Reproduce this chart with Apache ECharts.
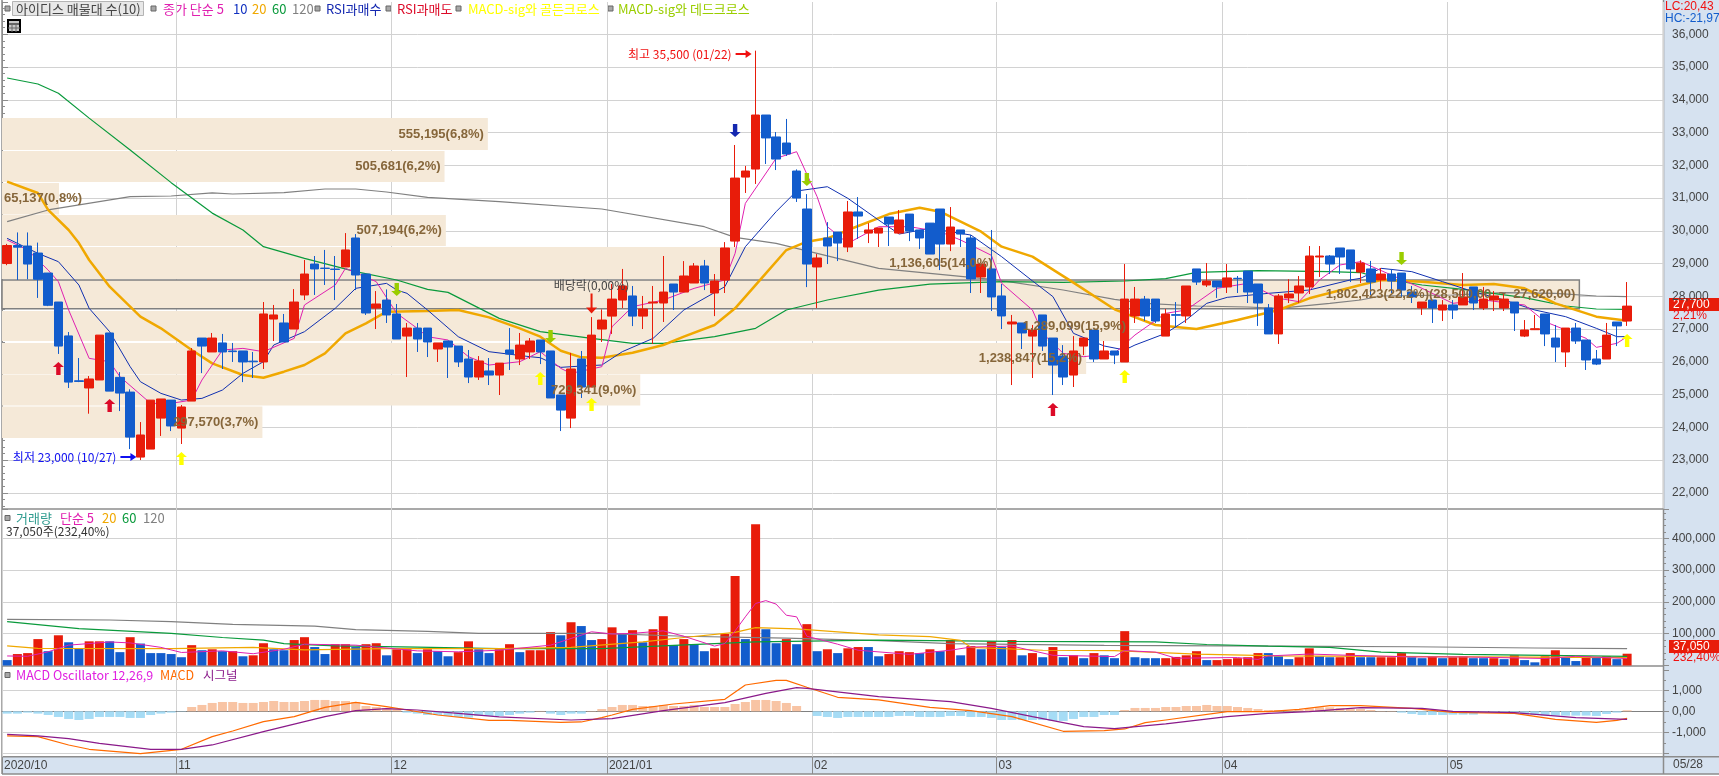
<!DOCTYPE html>
<html>
<head>
<meta charset="utf-8">
<style>
html, body { margin: 0; padding: 0; background: #fff; overflow: hidden; }
#panel { position: absolute; left: 1664px; top: 0; width: 55px; height: 774px; background: #d6e2f0; }
#chart { position: absolute; left: 0; top: 0; width: 1719px; height: 776px; }
</style>
</head>
<body>
<div id="panel"></div>
<div id="chart"></div>
<script src="https://cdn.jsdelivr.net/npm/echarts@6/dist/echarts.min.js"></script>
<script>
// [open, close, low, high]
const candles = [
  [29000,29550,28950,29600],[29550,29500,28500,29950],[29535,28985,28520,29950],[29320,28520,27950,29640],[28710,27725,27700,28710],
  [27825,26480,26240,27825],[26790,25380,25200,26910],[25420,25400,25380,26115],[25200,25475,24415,25565],[25445,26815,25445,26815],
  [26880,25105,25105,26880],[25525,25045,24495,25685],[25075,23700,23335,25160],[23090,23765,23000,24160],[23335,24830,23335,24830],
  [24280,24865,23735,24865],[24830,24040,23885,24830],[23975,24620,23490,24680],[24800,26330,24800,26420],[26725,26480,25655,26725],
  [26300,26725,26300,26880],[26575,26300,25780,26850],[26330,26310,25995,26575],[26330,25995,25380,26330],[26020,26000,25505,26300],
  [25995,27460,25780,27825],[27305,27430,26635,27735],[27185,26605,26605,27460],[27000,27825,27000,28220],[28040,28680,27885,29110],
  [28985,28835,28040,29230],[28860,28850,28345,29415],[28830,28820,27885,29230],[28895,29415,28895,29930],[29780,28650,28190,29900],
  [28680,27490,27430,28680],[27640,27765,27000,28160],[27885,27430,27185,28210],[27460,26695,26695,27765],[26785,27030,25535,27185],
  [27030,26695,26300,27185],[27030,26605,26145,27030],[26390,26575,25995,26575],[26635,26450,25505,26635],[26480,25995,25840,26480],
  [26085,25535,25350,26360],[25535,26025,25445,26175],[25720,25595,25290,26115],[25595,25960,24985,25960],[26360,26235,25750,27030],
  [26085,26510,25900,26880],[26300,26635,26085,26725],[26665,26300,25930,26665],[26330,24895,24895,26330],[24985,24525,23885,24985],
  [24280,25780,23975,26270],[26085,25230,24895,26330],[25230,26815,25230,27365],[27000,27275,26605,27600],[27395,27915,26850,28375],
  [27885,28315,27640,28835],[28010,27395,27090,28315],[27395,27610,27000,28010],[27795,27825,26545,28315],[27795,28130,27215,29230],
  [28375,28130,27580,28375],[28130,28620,28130,29075],[28405,28925,28405,29015],[28925,28405,28190,29110],[28100,28465,27395,28680],
  [28495,29475,28100,29655],[29685,31610,29505,32620],[31640,31825,31155,31980],[31885,33535,31430,35500],[33535,32835,32040,33535],
  [32865,32190,31855,33015],[32680,32345,32285,33415],[31825,31000,30880,31875],[30665,28985,28280,31120],[28895,29170,27640,29290],
  [29780,29535,28985,30265],[29960,29625,29075,29960],[29505,30575,29350,30910],[30575,30450,29750,31030],[29930,30025,29625,30235],
  [29930,30085,29505,30085],[30420,30205,29535,30420],[29930,30330,29900,30635],[30510,29990,29685,30510],[30025,29780,29445,30025],
  [30235,29290,29290,30235],[30665,29595,28800,30665],[29595,30115,29380,30725],[30025,29900,29505,30025],[29780,28530,28100,29870],
  [28590,28985,28100,28985],[28835,27980,27550,30025],[28010,27400,27000,28375],[27155,27215,25290,27430],[27185,26880,26390,27185],
  [26785,26970,25505,27125],[27430,26480,26330,27430],[26725,25900,24985,26725],[26175,25535,25290,26510],[25595,26330,25230,26785],
  [26480,26725,26205,26725],[26970,26085,25995,26970],[26085,26330,26085,26635],[26330,26205,25930,26330],[25995,27915,25995,28985],
  [27400,27915,27185,28285],[27915,27400,27245,28010],[27915,27245,27185,27915],[26785,27460,26785,27610],[27440,27420,27060,27825],
  [27400,28315,27185,28315],[28835,28435,28345,28835],[28345,28465,28285,29015],[28465,28285,27950,28465],[28285,28560,28100,28985],
  [28550,28540,28100,28620],[28770,28130,27795,28770],[28375,27795,27095,28375],[27640,26850,26850,27765],[26850,28010,26545,28070],
  [27950,28070,27795,28520],[28100,28315,27795,28620],[28285,29230,28070,29535],[29200,29230,28590,29535],[29230,28985,28680,29260],
  [29475,29200,28680,29475],[29415,28835,28435,29415],[28740,29015,28405,29100],[28835,28435,28040,29080],[28500,28680,28190,28865],
  [28680,28465,28100,28835],[28710,28190,27980,28710],[28130,27980,27795,28315],[27645,27825,27430,27825],[27885,27645,27185,27885],
  [27580,27735,27245,27885],[27735,27580,27305,27885],[27735,27980,27735,28710],[28285,27795,27580,28285],[27645,27915,27580,28285],
  [27885,28010,27550,28160],[27645,27915,27550,28070],[27825,27490,26940,27825],[26785,26970,26755,27275],[26980,27010,26970,27430],
  [27460,26850,26480,27460],[26725,26450,25995,27125],[26300,27030,25840,27030],[27030,26635,26545,27185],[26665,26055,25750,26665],
  [26085,25930,25900,26360],[26085,26815,26085,27185],[27215,27095,26480,27215],[27245,27700,27095,28435]
]

// moving averages as [candle index, price]
const ma5 = [[0,29719],[2,29413],[4,28802],[5,28446],[6,27581],[8,26105],[10,26003],[11,25545],[14,24730],[16,24730],[18,24832],[19,25443],[21,26359],[23,26410],[25,26308],[28,26715],[29,27734],[32,28344],[33,28853],[36,28446],[38,27479],[40,27021],[41,26766],[43,26665],[45,26155],[47,25901],[50,26003],[52,26308],[54,25799],[55,25647],[58,25850],[59,27072],[61,27683],[64,27886],[67,28242],[70,28497],[71,29311],[72,30838],[75,32212],[77,32415],[79,31041],[80,30125],[82,29616],[85,30125],[88,30125],[91,29972],[93,29718],[96,29250],[97,28396],[100,27581],[101,26869],[103,26258],[105,26156],[108,26258],[110,26818],[113,27480],[115,27581],[118,28243],[121,28396],[124,27938],[126,27836],[128,28498],[130,28956],[132,29058],[135,28650],[138,28243],[141,27785],[144,27887],[148,27734],[150,27225],[154,26716],[155,26441],[157,26563],[158,26767]]
const ma10 = [[0,29770],[3,29311],[5,29057],[7,28344],[8,27632],[10,26919],[12,25850],[13,25392],[15,25036],[17,24832],[19,24883],[21,25138],[23,25647],[25,26003],[26,26512],[29,26919],[32,27632],[34,28243],[37,28395],[38,28192],[39,28090],[41,27581],[44,26766],[47,26308],[51,26155],[52,26125],[54,25830],[56,25870],[58,25901],[60,26308],[63,26715],[66,27581],[70,28293],[72,29514],[75,30583],[77,31214],[80,31346],[82,30990],[85,30328],[87,29901],[90,30074],[94,29870],[97,29208],[100,28470],[102,27989],[104,26869],[107,26482],[109,26360],[110,26512],[113,26869],[115,27276],[117,27785],[119,27968],[123,28090],[127,28192],[131,28498],[132,28549],[134,28854],[137,28752],[140,28447],[143,28141],[146,27887],[149,27581],[152,27378],[155,27022],[157,26767],[158,26767]]
const ma20 = [[0,31500],[3,31153],[4,30636],[6,30024],[7,29625],[8,29108],[10,28293],[13,27377],[15,27021],[18,26359],[20,25952],[23,25596],[25,25514],[27,25698],[29,25901],[31,26257],[33,26868],[35,27174],[37,27530],[41,27550],[44,27581],[47,27357],[50,27021],[52,26766],[54,26339],[56,26135],[58,26125],[61,26278],[64,26512],[66,26766],[69,27123],[71,27632],[74,28701],[76,29412],[78,29667],[80,29770],[82,30023],[86,30511],[89,30705],[91,30583],[95,29972],[97,29516],[100,29210],[104,28416],[108,27602],[112,27123],[116,27001],[120,27276],[124,27581],[127,27938],[132,28345],[134,28498],[138,28447],[142,28345],[145,28375],[148,28243],[151,27785],[155,27378],[158,27256]]
const ma60 = [[0,34666],[3,34483],[5,34200],[8,33440],[12,32466],[16,31470],[20,30540],[23,30024],[25,29515],[29,29160],[34,28751],[38,28497],[41,28212],[43,28120],[48,27326],[52,26919],[57,26715],[61,26563],[64,26563],[69,26766],[73,27021],[76,27581],[80,27886],[85,28190],[90,28374],[97,28445],[103,28426],[109,28467],[113,28538],[116,28732],[122,28783],[129,28752],[132,28725],[134,28548],[138,28345],[142,28213],[148,27958],[152,27703],[155,27612],[158,27602]]
const ma120 = [[0,30280],[4,30636],[12,31041],[16,31062],[20,31155],[22,31124],[27,31163],[31,31276],[34,31276],[37,31185],[41,31023],[48,30889],[58,30665],[68,30125],[71,29800],[75,29616],[81,29158],[85,28852],[90,28700],[96,28516],[97,28477],[103,28192],[108,27907],[111,27785],[116,27703],[121,27673],[124,27632],[129,27785],[132,27887],[134,28009],[141,28039],[146,28111],[151,28090],[155,28009],[158,27989]]

// 매물대 bands
const bandVolume = [555195, 505681, 65137, 507194, 1136605, 1802423, 1289099, 1238847, 729341, 297570]
const bandHigh = [33444, 32437, 31460, 30482, 29505, 28500, 27553, 26576, 25612, 24635]
const bandLow = [32466, 31490, 30498, 29536, 28528, 27620, 26637, 25630, 24666, 23674]
const bandLabels = ['555,195(6,8%)', '505,681(6,2%)', '65,137(0,8%)', '507,194(6,2%)', '1,136,605(14,0%)',
  '1,802,423(22,2%)(28,500,00  ~  27,620,00)', '1,289,099(15,9%)', '1,238,847(15,2%)', '729,341(9,0%)', '297,570(3,7%)']

// signal arrows as [candle index, price]
const rsiBuy = [[5,25795],[10,24666],[102,24543]]
const goldenCross = [[17,23047],[52,25490],[57,24696],[109,25551],[158,26650]]
const deadCross = [[38,28207],[53,26773],[78,31567],[136,29154]]
const rsiSell = [[71,33063]]
const dividend = [[57,27780]]
const highPoint = [[73,35400]]
const lowPoint = [[13,23090]]

const volumes = [
  17000,36000,39000,83000,45000,95000,73000,54000,76000,76000,
  76000,42000,89000,69000,39000,39000,36000,26000,64000,48000,
  51000,45000,45000,29000,32000,70000,51000,48000,80000,89000,
  58000,36000,67000,67000,58000,67000,70000,32000,51000,51000,
  39000,51000,45000,29000,42000,76000,51000,39000,51000,67000,
  42000,48000,48000,105000,95000,136000,124000,80000,83000,120000,
  99000,111000,73000,114000,155000,64000,83000,67000,45000,54000,
  99000,281000,83000,444000,114000,70000,83000,67000,130000,45000,
  51000,39000,54000,58000,58000,29000,36000,45000,42000,39000,
  51000,45000,80000,32000,61000,51000,76000,58000,80000,32000,
  39000,26000,58000,26000,32000,23000,39000,32000,23000,108000,
  26000,23000,23000,23000,27000,32000,45000,17000,17000,20000,
  23000,26000,39000,39000,29000,20000,26000,54000,29000,26000,
  26000,39000,26000,26000,26000,26000,39000,26000,23000,29000,
  23000,26000,29000,23000,23000,23000,20000,32000,17000,10000,
  29000,48000,26000,14000,29000,26000,29000,20000,37050
]
// R = volume up, B = volume down
const volumeFlags = ('BRRRBRBBRR' + 'BBRBBBBBRB' + 'RBRBRRBBRR' + 'BBRRBRRBRR' + 'BRBBRRBBRR' + 'BRRRBRBBRR' + 'BRBRRBRBBR' + 'RRBRBBRBRB' +
  'RBRRBBRRRB' + 'RBRBRBRBRB' + 'RBRBRBRBBR' + 'BBBRRRRBRR' + 'RRRBBBRRBB' + 'RRBBRRRBBR' + 'BRRBBRBRBB' + 'RRBBRBRBR')
const volMa5 = [[0,30000],[2,29000],[4,43000],[6,64000],[10,74000],[12,71000],[15,57000],[17,41000],[21,46000],[24,37000],[27,51000],[29,67000],[34,64000],[40,46000],[44,43000],[48,48000],[53,64000],[55,85000],[57,106000],[59,99000],[61,101000],[64,109000],[66,92000],[69,61000],[70,69000],[71,109000],[72,153000],[73,195000],[74,204000],[75,193000],[76,158000],[77,153000],[78,92000],[81,67000],[83,48000],[88,35000],[92,48000],[94,58000],[98,61000],[102,32000],[108,28000],[109,47000],[112,42000],[114,23000],[120,25000],[122,19000],[123,30000],[127,36000],[131,32000],[137,27000],[142,27000],[150,22000],[153,29000],[158,22000]]
const volMa20 = [[0,62000],[3,54000],[16,53000],[24,57000],[29,49000],[37,53000],[48,53000],[55,57000],[62,74000],[66,88000],[71,104000],[73,119000],[77,115000],[85,96000],[90,91000],[93,79000],[94,57000],[101,48000],[108,47000],[116,36000],[124,30000],[158,25000]]
const volMa60 = [[0,138000],[7,116000],[16,101000],[21,88000],[25,80000],[27,69000],[32,62000],[40,58000],[48,53000],[58,53000],[65,63000],[73,74000],[85,80000],[98,76000],[112,74000],[117,66000],[123,61000],[129,57000],[134,42000],[142,35000],[158,29000]]
const volMa120 = [[0,145000],[10,143000],[16,138000],[22,129000],[30,124000],[34,113000],[41,107000],[46,101000],[58,101000],[66,92000],[76,86000],[85,78000],[92,69000],[107,63000],[124,61000],[137,59000],[149,55000],[158,53000]]

const macdHist = [
  -111,-111,-63,-111,-175,-270,-365,-413,-365,-270,
  -270,-270,-317,-317,-175,-111,-63,-15,206,302,
  397,444,444,397,397,444,492,444,444,492,
  540,540,492,492,444,254,206,159,111,-63,
  -111,-175,-175,-222,-270,-300,-222,-222,-222,-175,
  -111,-63,16,-111,-175,-111,-111,16,111,206,
  302,302,254,254,302,254,254,302,206,206,
  206,349,444,540,540,492,397,254,0,-222,
  -270,-317,-270,-270,-270,-270,-270,-222,-222,-270,
  -270,-270,-222,-222,-270,-270,-317,-413,-413,-413,
  -413,-413,-460,-460,-365,-270,-270,-175,-175,63,
  159,159,159,206,206,254,254,302,254,254,
  206,159,111,63,63,32,63,143,190,190,
  159,127,111,63,16,16,-63,-127,-175,-175,
  -175,-159,-159,-159,-63,-63,-63,-111,-159,-175,
  -206,-206,-206,-206,-206,-222,-127,-63,48
]
const macdLine = [[0,-1174],[3,-1206],[6,-1603],[8,-1809],[13,-2015],[17,-1809],[20,-1206],[22,-936],[25,-492],[28,-254],[31,190],[34,428],[37,222],[42,-175],[47,-428],[49,-428],[54,-524],[56,-508],[58,-302],[59,-175],[61,95],[65,349],[70,571],[72,1254],[75,1476],[76,1476],[78,1143],[81,667],[85,540],[90,190],[94,32],[98,-254],[103,-952],[107,-920],[109,-841],[111,-540],[113,-413],[119,-16],[123,-16],[126,95],[129,270],[132,270],[137,143],[141,-48],[147,-95],[151,-381],[155,-524],[157,-428],[158,-333]]
const macdSignal = [[0,-1095],[3,-1174],[6,-1301],[9,-1523],[14,-1809],[17,-1809],[20,-1603],[25,-968],[31,-254],[34,32],[37,127],[40,63],[44,-95],[48,-270],[55,-413],[59,-349],[64,32],[70,413],[74,857],[77,1127],[78,1095],[85,698],[92,460],[96,143],[100,-254],[105,-730],[108,-825],[113,-603],[119,-254],[123,-95],[127,-16],[132,175],[138,143],[141,0],[147,-63],[153,-302],[158,-381]]

// month labels on the bottom strip
const monthStarts = [0, 17, 38, 59, 79, 97, 119, 141]
const monthLabels = ['2020/10', '11', '12', '2021/01', '02', '03', '04', '05']

const RED = '#e81c0a'
const BLUE = '#125ccc'
const GRID = '#d2d2d2'
const FRAME = '#8c8c8c'
const LATIN = '"Liberation Sans",sans-serif'
const KOR = '"Noto Sans CJK KR",sans-serif'
const BAND_TEXT = '#86663a'

const slotCount = 162
const categories = Array.from({ length: slotCount }, (_, i) => String(i))
const stripSlots = Array.from({ length: slotCount + 1 }, (_, i) => {
  const m = monthStarts.indexOf(i)
  return m >= 0 ? monthLabels[m] : ''
})
const isMonthStart = (i) => monthStarts.includes(i)

const categoryAxis = (gridIndex) => ({
  type: 'category',
  gridIndex,
  data: categories,
  axisLine: { show: false },
  axisTick: { show: false },
  axisLabel: { show: false },
  splitLine: { show: true, interval: isMonthStart, lineStyle: { color: GRID, width: 1 } }
})

const priceAxis = (gridIndex, min, max, interval, minor, formatter) => ({
  type: 'value',
  gridIndex,
  position: 'right',
  min,
  max,
  minInterval: interval,
  maxInterval: interval,
  splitNumber: Math.round((max - min) / interval),
  axisLine: { show: true, lineStyle: { color: FRAME } },
  axisTick: { show: true, length: 6, lineStyle: { color: FRAME } },
  minorTick: { show: true, splitNumber: minor, length: 3, lineStyle: { color: FRAME } },
  axisLabel: {
    margin: 9, color: '#444', fontFamily: LATIN, fontSize: 12,
    showMinLabel: false, showMaxLabel: false, formatter
  },
  splitLine: { show: true, showMinLine: false, showMaxLine: false, lineStyle: { color: GRID, width: 1 } }
})

const maLine = (name, data, color, width, xAxisIndex, yAxisIndex, z) => ({
  name, type: 'line', data, xAxisIndex, yAxisIndex, z: z || 2,
  showSymbol: false, symbol: 'none', silent: true,
  lineStyle: { color, width }
})

const UP_ARROW = 'path://M5 0L10 5L7 5L7 13L3 13L3 5L0 5Z'
const arrowSeries = (name, data, color, rotate) => ({
  name, type: 'scatter', data, symbol: UP_ARROW, symbolSize: [11, 13], symbolRotate: rotate,
  itemStyle: { color, opacity: 1 }, z: 5, silent: true, xAxisIndex: 0, yAxisIndex: 0
})

const renderBand = (params, api) => {
  const end = api.coord([api.value(0), api.value(1)])
  const start = api.coord([0, api.value(2)])
  const highlight = params.dataIndex === 5
  return {
    type: 'rect',
    shape: { x: start[0], y: start[1], width: end[0] - start[0], height: end[1] - start[1] },
    style: highlight ? { fill: '#f5e9d8', stroke: '#808080', lineWidth: 1.5 } : { fill: '#f5e9d8' }
  }
}

const renderBandLabel = (params, api) => {
  const end = api.coord([api.value(0), api.value(1)])
  const start = api.coord([0, api.value(2)])
  const narrow = end[0] - start[0] < 100
  return {
    type: 'text',
    x: narrow ? start[0] + 2 : end[0] - 4,
    y: (start[1] + end[1]) / 2,
    style: {
      text: bandLabels[params.dataIndex],
      align: narrow ? 'left' : 'right',
      verticalAlign: 'middle',
      fill: BAND_TEXT,
      font: 'bold 13px ' + LATIN
    }
  }
}

const bandData = bandVolume.map((v, i) => [v, bandLow[i], bandHigh[i]])

const text = (x, y, str, fill, font) => ({
  type: 'text', x, y,
  style: { text: str, fill, font: font || ('13px ' + KOR), verticalAlign: 'middle' }
})
const square = (x, y) => ({
  type: 'rect', shape: { x, y, width: 5, height: 5 },
  style: { fill: '#a8a8a8', stroke: '#666', lineWidth: 1 }
})
const rule = (x1, y1, x2, y2) => ({
  type: 'line', shape: { x1, y1, x2, y2 }, style: { stroke: FRAME, lineWidth: 1.5 }
})

const headerItems = [
  rule(2, 0, 2, 774),
  rule(1663.5, 0, 1663.5, 774),
  rule(2, 509, 1664, 509),
  rule(2, 666, 1664, 666),
  rule(2, 756.7, 1719, 756.7),
  rule(2, 774, 1719, 774),

  square(5, 6),
  { type: 'rect', shape: { x: 12.5, y: 1.5, width: 131, height: 14 }, style: { fill: '#e8e8e8', stroke: '#b4b4b4', lineWidth: 1 } },
  text(16, 9, '아이디스 매물대 수(10)', '#444'),
  square(151, 6),
  text(163, 9, '종가 단순 5', '#e020b0'),
  text(233, 9, '10', '#1030c0'),
  text(252, 9, '20', '#f0a800'),
  text(272, 9, '60', '#0a9a3c'),
  text(292, 9, '120', '#808080'),
  square(315, 6),
  text(326, 9, 'RSI과매수', '#1428b0'),
  square(386, 6),
  text(397, 9, 'RSI과매도', '#dc0a28'),
  square(456, 6),
  text(468, 9, 'MACD-sig와 골든크로스', '#ffff00'),
  square(608, 6),
  text(618, 9, 'MACD-sig와 데드크로스', '#9acd00'),
  // table icon
  { type: 'rect', shape: { x: 8, y: 20, width: 12, height: 12 }, style: { fill: '#c8c8c8', stroke: '#000', lineWidth: 2 } },
  { type: 'line', shape: { x1: 8, y1: 24, x2: 20, y2: 24 }, style: { stroke: '#000' } },
  { type: 'line', shape: { x1: 8, y1: 28, x2: 20, y2: 28 }, style: { stroke: '#666' } },
  { type: 'line', shape: { x1: 12, y1: 24, x2: 12, y2: 32 }, style: { stroke: '#666' } },
  { type: 'line', shape: { x1: 16, y1: 24, x2: 16, y2: 32 }, style: { stroke: '#666' } },

  text(1665, 7, 'LC:20,43', '#f01010', '12px ' + LATIN),
  text(1665, 19, 'HC:-21,97', BLUE, '12px ' + LATIN),

  square(5, 515.5),
  text(16, 518, '거래량', '#2e9b8f'),
  text(60, 518, '단순 5', '#e020b0'),
  text(102, 518, '20', '#f0a800'),
  text(122, 518, '60', '#0a9a3c'),
  text(143, 518, '120', '#808080'),
  text(6, 531, '37,050주(232,40%)', '#333', '12px ' + KOR),

  square(5, 672.5),
  text(16, 675, 'MACD Oscillator 12,26,9', '#e020e0', '12.5px ' + KOR),
  text(160, 675, 'MACD', '#ff6a00', '12.5px ' + KOR),
  text(203, 675, '시그널', '#8a1a8a', '12.5px ' + KOR),

  // price and volume tags on the right
  { type: 'rect', shape: { x: 1669, y: 298, width: 50, height: 13 }, style: { fill: RED } },
  text(1673, 305, '27,700', '#fff', '12px ' + LATIN),
  text(1673, 316, '2,21%', '#f01010', '12px ' + LATIN),
  { type: 'rect', shape: { x: 1669, y: 640, width: 50, height: 13 }, style: { fill: RED } },
  text(1673, 647, '37,050', '#fff', '12px ' + LATIN),
  text(1673, 658, '232,40%', '#f01010', '12px ' + LATIN),
  text(1673, 765, '05/28', '#444', '12px ' + LATIN)
]

const option = {
  animation: false,
  backgroundColor: 'transparent',
  grid: [
    { left: 2, top: 2, width: 1661, height: 507, show: false, outerBoundsMode: 'none' },
    { left: 2, top: 509, width: 1661, height: 156.5, show: false, outerBoundsMode: 'none' },
    { left: 2, top: 670, width: 1661, height: 86.7, show: false, outerBoundsMode: 'none' },
    { left: 2, top: 757, width: 1661, height: 17, show: true, borderWidth: 0, backgroundColor: '#d6e2f0', outerBoundsMode: 'none' }
  ],
  xAxis: [
    categoryAxis(0),
    categoryAxis(1),
    Object.assign(categoryAxis(2), { axisLine: { show: true, onZero: true, lineStyle: { color: '#808080', width: 1 } } }),
    {
      type: 'category',
      gridIndex: 3,
      boundaryGap: false,
      data: stripSlots,
      axisLine: { show: false },
      axisTick: { show: false },
      axisLabel: {
        inside: true, interval: (i) => isMonthStart(i), align: 'left', margin: 2, verticalAlign: 'bottom',
        color: '#444', fontFamily: LATIN, fontSize: 12, padding: [0, 0, 0, 2]
      },
      splitLine: { show: true, interval: (i) => isMonthStart(i), lineStyle: { color: FRAME, width: 1 } }
    },
    // hidden scale for the width of the 매물대 bands
    { type: 'value', gridIndex: 0, min: 0, max: 1898000, show: false }
  ],
  yAxis: [
    priceAxis(0, 21505, 36986, 1000, 5, (v) => v.toLocaleString('en-US')),
    priceAxis(1, 0, 492000, 100000, 5, (v) => v.toLocaleString('en-US')),
    priceAxis(2, -2162, 1967, 1000, 2, (v) => (v === 0 ? '0,00' : Math.abs(v) === 1000 ? v.toLocaleString('en-US') : '')),
    { type: 'value', gridIndex: 3, show: false }
  ],
  graphic: { elements: headerItems },
  series: [
    {
      name: 'bands', type: 'custom', coordinateSystem: 'cartesian2d', xAxisIndex: 4, yAxisIndex: 0,
      data: bandData, renderItem: renderBand, encode: { x: 0, y: [1, 2] }, z: 1, silent: true, clip: false
    },
    maLine('MA120', ma120, '#808080', 1.2, 0, 0),
    maLine('MA60', ma60, '#0a9a3c', 1.2, 0, 0),
    maLine('MA20', ma20, '#f0a800', 2.5, 0, 0),
    maLine('MA10', ma10, '#1030b0', 1, 0, 0),
    maLine('MA5', ma5, '#e020b0', 1, 0, 0),
    {
      name: 'candles', type: 'candlestick', data: candles, barWidth: 9, xAxisIndex: 0, yAxisIndex: 0, z: 3, silent: true,
      itemStyle: { color: RED, color0: BLUE, borderColor: RED, borderColor0: BLUE, borderWidth: 1 }
    },
    arrowSeries('RSI buy', rsiBuy, '#dc0a28', 0),
    arrowSeries('golden', goldenCross, '#ffff00', 0),
    arrowSeries('dead', deadCross, '#9acd00', 180),
    arrowSeries('RSI sell', rsiSell, '#1428b0', 180),
    {
      name: 'dividend', type: 'scatter', data: dividend, xAxisIndex: 0, yAxisIndex: 0, z: 5, silent: true,
      symbol: 'path://M4.5 0L6.5 0L6.5 14L11 14L5.5 20L0 14L4.5 14Z', symbolSize: [11, 20],
      itemStyle: { color: RED, opacity: 1 },
      label: { show: true, position: 'top', distance: 2, formatter: '배당락(0,00%)', color: '#444', fontFamily: KOR, fontSize: 12 }
    },
    {
      name: 'high', type: 'scatter', data: highPoint, xAxisIndex: 0, yAxisIndex: 0, z: 5, silent: true,
      symbol: 'path://M0 3L10 3L10 0L16 4L10 8L10 5L0 5Z', symbolSize: [16, 8], symbolOffset: [-12, 0],
      itemStyle: { color: '#f01010', opacity: 1 },
      label: { show: true, position: 'left', distance: 4, formatter: '최고 35,500 (01/22)', color: '#f01010', fontFamily: KOR, fontSize: 12 }
    },
    {
      name: 'low', type: 'scatter', data: lowPoint, xAxisIndex: 0, yAxisIndex: 0, z: 5, silent: true,
      symbol: 'path://M0 3L10 3L10 0L16 4L10 8L10 5L0 5Z', symbolSize: [16, 8], symbolOffset: [-12, 0],
      itemStyle: { color: '#1010f0', opacity: 1 },
      label: { show: true, position: 'left', distance: 4, formatter: '최저 23,000 (10/27)', color: '#1010f0', fontFamily: KOR, fontSize: 12 }
    },
    {
      name: 'band labels', type: 'custom', coordinateSystem: 'cartesian2d', xAxisIndex: 4, yAxisIndex: 0,
      data: bandData, renderItem: renderBandLabel, encode: { x: 0, y: [1, 2] }, z: 6, silent: true, clip: false
    },
    {
      name: 'volume', type: 'bar', data: volumes, xAxisIndex: 1, yAxisIndex: 1, barWidth: 9, z: 2, silent: true,
      itemStyle: { color: (p) => (volumeFlags[p.dataIndex] === 'R' ? RED : BLUE) }
    },
    maLine('Vol MA120', volMa120, '#808080', 1.2, 1, 1, 3),
    maLine('Vol MA60', volMa60, '#0a9a3c', 1.2, 1, 1, 3),
    maLine('Vol MA20', volMa20, '#f0a800', 1.2, 1, 1, 3),
    maLine('Vol MA5', volMa5, '#e020b0', 1, 1, 1, 3),
    {
      name: 'MACD Oscillator', type: 'bar', data: macdHist, xAxisIndex: 2, yAxisIndex: 2, barWidth: 9, z: 2, silent: true,
      itemStyle: { color: (p) => (p.value < 0 ? '#a6dcf5' : '#f8c4a4') }
    },
    maLine('MACD', macdLine, '#ff6a00', 1.2, 2, 2, 3),
    maLine('Signal', macdSignal, '#8a1a8a', 1.2, 2, 2, 3)
  ]
}

const chart = echarts.init(document.getElementById('chart'))
chart.setOption(option)
window.addEventListener('resize', chart.resize)
</script>
</body>
</html>
